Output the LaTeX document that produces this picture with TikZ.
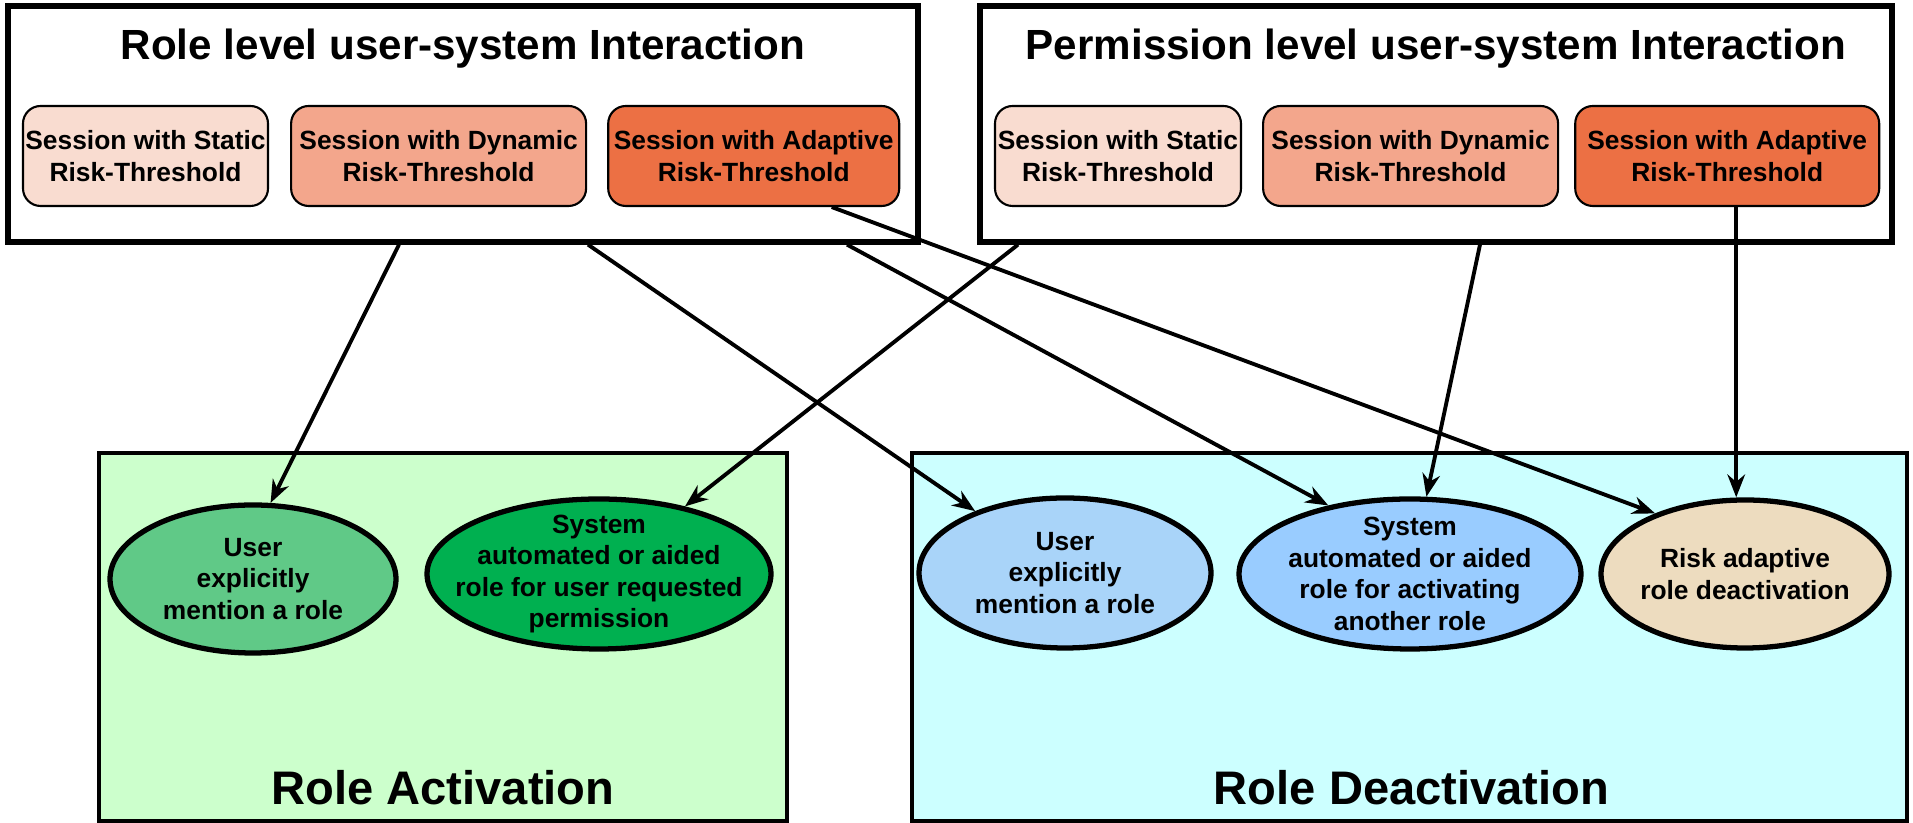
\documentclass[tikz,border=0pt]{standalone}
\usepackage{fontspec}
\setmainfont{Liberation Sans}
\usepackage{tikz}
\usetikzlibrary{shapes.geometric, arrows.meta, positioning, calc}
\definecolor{staticfill}{HTML}{F9DCD0}
\definecolor{dynamicfill}{HTML}{F3A68C}
\definecolor{adaptivefill}{HTML}{EC7044}
\definecolor{activbg}{HTML}{CCFFCC}
\definecolor{deactivbg}{HTML}{CCFFFF}
\definecolor{usergreen}{HTML}{60C987}
\definecolor{sysgreen}{HTML}{00B050}
\definecolor{userblue}{HTML}{A9D4F9}
\definecolor{sysblue}{HTML}{99CCFF}
\definecolor{risktan}{HTML}{EDDCBF}

\begin{document}
\begin{tikzpicture}[
    outerbox/.style={rectangle, draw=black, line width=1.5pt, minimum height=2.36cm, inner sep=0pt},
    boxtitle/.style={font=\fontsize{12}{14}\selectfont\bfseries, inner sep=0pt, anchor=base},
    sessionbox/.style={rectangle, draw=black, line width=0.6pt, rounded corners=5pt, minimum height=1cm, inner sep=0pt, align=center, font=\fontsize{7.5}{9.1}\selectfont\bfseries},
    areabox/.style={rectangle, draw=black, line width=1.2pt, minimum height=3.68cm, inner sep=0pt},
    areatitle/.style={font=\fontsize{13.4}{15}\selectfont\bfseries, inner sep=0pt, anchor=base},
    modeoval/.style={ellipse, draw=black, line width=1.5pt, inner sep=0pt},
    modetext/.style={align=center, inner sep=0pt, font=\fontsize{7.5}{9}\selectfont\bfseries},
    arrow/.style={-{Stealth[length=6.5pt, width=5pt]}, line width=1.1pt}
]
\useasboundingbox (0,0) rectangle (19.13,8.23);

% interaction levels
\node[outerbox, minimum width=9.1cm] (rolebox) at (4.63,6.99) {};
\node[outerbox, minimum width=9.12cm] (permbox) at (14.36,6.99) {};
\node[boxtitle] (roletitle) at ([yshift=-0.56cm]rolebox.north) {Role level user-system Interaction};
\node[boxtitle] (permtitle) at ([yshift=-0.56cm]permbox.north) {Permission level user-system Interaction};

\node[sessionbox, fill=staticfill, minimum width=2.45cm] (rstatic) at (1.455,6.67) {Session with Static\\Risk-Threshold};
\node[sessionbox, fill=dynamicfill, minimum width=2.95cm, right=0.21cm of rstatic] (rdyn) {Session with Dynamic\\Risk-Threshold};
\node[sessionbox, fill=adaptivefill, minimum width=2.91cm, right=0.2cm of rdyn] (radapt) {Session with Adaptive\\Risk-Threshold};

\node[sessionbox, fill=staticfill, minimum width=2.46cm] (pstatic) at (11.18,6.67) {Session with Static\\Risk-Threshold};
\node[sessionbox, fill=dynamicfill, minimum width=2.95cm, right=0.2cm of pstatic] (pdyn) {Session with Dynamic\\Risk-Threshold};
\node[sessionbox, fill=adaptivefill, minimum width=3.04cm, right=0.15cm of pdyn] (padapt) {Session with Adaptive\\Risk-Threshold};

% activation / deactivation areas
\node[areabox, fill=activbg, minimum width=6.88cm] (activ) at (4.43,1.86) {};
\node[areabox, fill=deactivbg, minimum width=9.95cm] (deactiv) at (14.095,1.86) {};
\node[areatitle] (activtitle) at ([yshift=0.19cm]activ.south) {Role Activation};
\node[areatitle] (deactivtitle) at ([yshift=0.19cm,xshift=0.02cm]deactiv.south) {Role Deactivation};

\node[modeoval, fill=usergreen, minimum width=2.86cm, minimum height=1.48cm,
      label={[modetext]center:User\\explicitly\\mention a role}] (e1) at (2.53,2.44) {};
\node[modeoval, fill=sysgreen, minimum width=3.44cm, minimum height=1.5cm,
      label={[modetext]center:System\\automated or aided\\role for user requested\\permission}] (e2) at (5.99,2.49) {};
\node[modeoval, fill=userblue, minimum width=2.92cm, minimum height=1.5cm,
      label={[modetext]center:User\\explicitly\\mention a role}] (e3) at (10.65,2.5) {};
\node[modeoval, fill=sysblue, minimum width=3.42cm, minimum height=1.5cm,
      label={[modetext]center:System\\automated or aided\\role for activating\\another role}] (e4) at (14.1,2.49) {};
\node[modeoval, fill=risktan, minimum width=2.88cm, minimum height=1.48cm,
      label={[modetext]center:Risk adaptive\\role deactivation}] (e5) at (17.45,2.49) {};

% links
\draw[arrow] ([xshift=-0.64cm]rolebox.south) -- (e1.77);
\draw[arrow] ([xshift=1.25cm]rolebox.south) -- (e3);
\draw[arrow] ([xshift=3.84cm]rolebox.south) -- (e4.140);
\draw[arrow] ([xshift=0.78cm]radapt.south) -- (e5.146);
\draw[arrow] ([xshift=-4.18cm]permbox.south) -- (e2);
\draw[arrow] ([xshift=0.44cm]permbox.south) -- (e4);
\draw[arrow] ([xshift=0.09cm]padapt.south) coordinate (pstart) -- (pstart |- e5.north);

\end{tikzpicture}
\end{document}
